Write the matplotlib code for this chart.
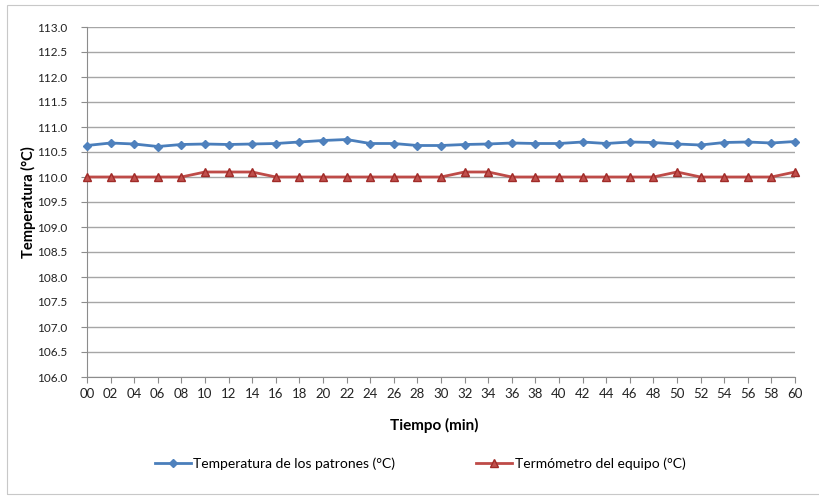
import matplotlib.pyplot as plt
from matplotlib.patches import Rectangle

plt.rcParams['font.family'] = ['Lato', 'DejaVu Sans']

# minutos de registro y temperaturas leídas
minutos = list(range(0, 61, 2))
etiquetas = ['%02d' % m for m in minutos]
patrones = [110.63, 110.68, 110.66, 110.61, 110.65, 110.66, 110.65, 110.66,
            110.67, 110.70, 110.73, 110.75, 110.67, 110.67, 110.63, 110.63,
            110.65, 110.66, 110.68, 110.67, 110.67, 110.70, 110.67, 110.70,
            110.69, 110.66, 110.64, 110.69, 110.70, 110.68, 110.71]
equipo = [110.0, 110.0, 110.0, 110.0, 110.0, 110.1, 110.1, 110.1,
          110.0, 110.0, 110.0, 110.0, 110.0, 110.0, 110.0, 110.0,
          110.1, 110.1, 110.0, 110.0, 110.0, 110.0, 110.0, 110.0,
          110.0, 110.1, 110.0, 110.0, 110.0, 110.0, 110.1]

fig = plt.figure(figsize=(8.19, 4.97), dpi=100)
ax = fig.add_axes([87 / 819, 1 - 377 / 497, 708 / 819, 350 / 497])

# marco exterior del gráfico
fig.patches.append(Rectangle((7 / 819, 3 / 497), 1.0, 489 / 497, transform=fig.transFigure,
                             fill=False, edgecolor='#c8c8c8', linewidth=0.8))

ax.plot(minutos, patrones, color='#4A7EBB', linewidth=2.0, marker='D', markersize=4.5,
        markerfacecolor='#4F81BD', markeredgecolor='#4F81BD', clip_on=False,
        label='Temperatura de los patrones (°C)', zorder=3)
ax.plot(minutos, equipo, color='#BE4B48', linewidth=2.0, marker='^', markersize=6,
        markerfacecolor='#C0504D', markeredgecolor='#A02B28', clip_on=False,
        label='Termómetro del equipo (°C)', zorder=3)

ax.set_xlim(0, 60)
ax.set_ylim(106.0, 113.0)
ax.set_yticks([106.0 + 0.5 * i for i in range(15)])
ax.set_yticklabels(['%.1f' % (106.0 + 0.5 * i) for i in range(15)])
ax.set_xticks(minutos)
ax.set_xticklabels(etiquetas)
ax.yaxis.grid(True, color='#a6a6a6', linewidth=1.0)
ax.set_axisbelow(True)

for s in ['top', 'right']:
    ax.spines[s].set_visible(False)
for s in ['left', 'bottom']:
    ax.spines[s].set_color('#8c8c8c')
ax.tick_params(axis='both', colors='#8c8c8c', labelcolor='#222222', length=4)
ax.tick_params(axis='y', pad=10, labelsize=8.5)
ax.tick_params(axis='x', pad=4, labelsize=9.5)

ax.set_xlabel('Tiempo (min)', fontsize=11, fontweight='bold')
ax.set_ylabel('Temperatura (°C)', fontsize=10.5, fontweight='bold')
ax.xaxis.set_label_coords(0.49, -0.117)
ax.yaxis.set_label_coords(-0.072, 0.5)

fig.legend(loc='center', bbox_to_anchor=(0.513, 1 - 464 / 497), ncol=2, frameon=False,
           fontsize=10, handlelength=2.6, handletextpad=0.2, columnspacing=5.8)

fig.savefig('out.png', dpi=100)
